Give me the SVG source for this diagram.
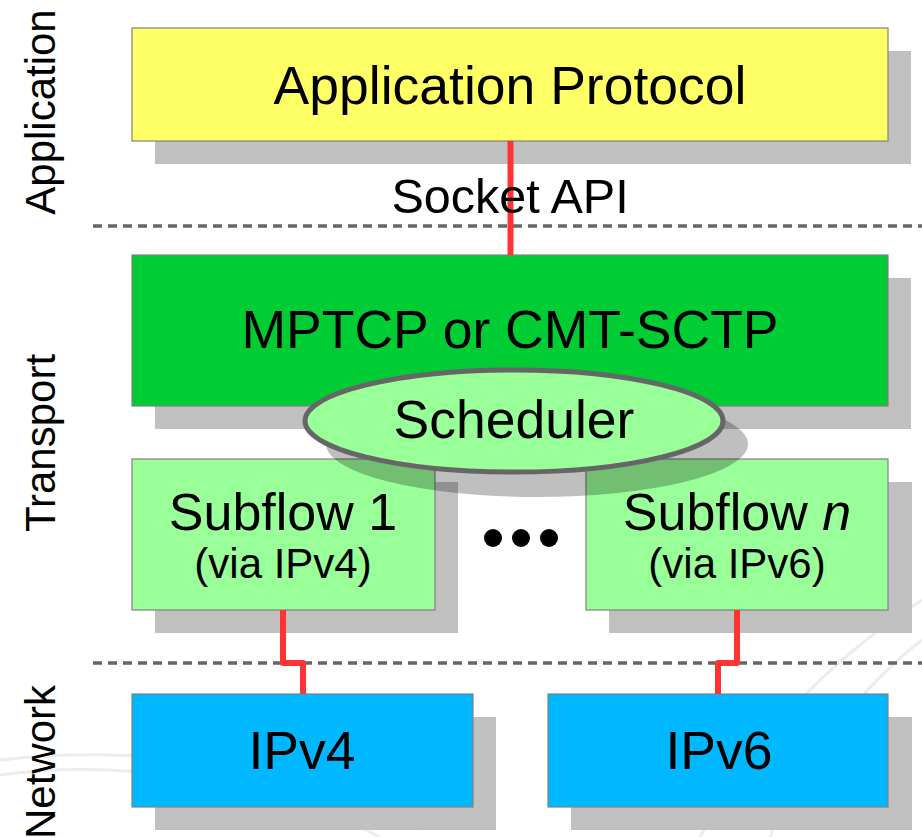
<svg xmlns="http://www.w3.org/2000/svg" width="922" height="837" viewBox="0 0 922 837">
<style>
text{font-family:"Liberation Sans",Arial,sans-serif;fill:#000;text-anchor:middle}
.big{font-size:53.5px}
.sub{font-size:52px}
.mid{font-size:42px}
.side{font-size:42px}
.sh{fill:#c0c0c0}
.box{stroke:#808080;stroke-width:1.2}
.dash{stroke:#666;stroke-width:3.5;stroke-dasharray:9 6;fill:none}
.wire{stroke:#ff3333;stroke-width:6;fill:none;stroke-linejoin:round}
</style>
<rect width="922" height="837" fill="#fff"/>
<g id="watermark" fill="none" stroke="#ececec" stroke-width="3">
<path d="M0 760 C 120 745, 300 760, 420 830"/>
<path d="M0 775 C 110 760, 260 775, 380 837"/>
<path d="M922 600 C 860 640, 760 720, 700 837"/>
<path d="M922 640 C 870 680, 800 760, 770 837"/>
</g>
<g id="layers">
<text class="side" transform="translate(55,112) rotate(-90)">Application</text>
<text class="side" transform="translate(55,443) rotate(-90)">Transport</text>
<text class="side" transform="translate(55,762) rotate(-90)">Network</text>
<line class="dash" x1="93" y1="226" x2="922" y2="226"/>
<line class="dash" x1="93" y1="663" x2="922" y2="663"/>
</g>
<g id="app">
<rect class="sh" x="155" y="51" width="756" height="113"/>
<rect class="box" x="132" y="28" width="756" height="113" fill="#ffff66"/>
<text class="big" x="510" y="104">Application Protocol</text>
</g>
<g id="mptcp">
<rect class="sh" x="155" y="278" width="756" height="151"/>
<rect class="box" x="132" y="255" width="756" height="151" fill="#00cc33"/>
<text class="big" x="510" y="348">MPTCP or CMT-SCTP</text>
</g>
<g id="subflow1">
<rect class="sh" x="155" y="482" width="303" height="151"/>
<rect class="box" x="132" y="459" width="303" height="151" fill="#99ff99"/>
<text class="sub" x="283" y="530">Subflow 1</text>
<text class="mid" x="283" y="578">(via IPv4)</text>
</g>
<g id="subflown">
<rect class="sh" x="609" y="482" width="303" height="151"/>
<rect class="box" x="586" y="459" width="302" height="151" fill="#99ff99"/>
<text class="sub" x="737" y="530">Subflow <tspan font-style="italic">n</tspan></text>
<text class="mid" x="737" y="578">(via IPv6)</text>
</g>
<g id="scheduler">
<ellipse cx="537" cy="444" rx="211" ry="53" fill="#000" fill-opacity="0.25"/>
<ellipse cx="514" cy="421" rx="209" ry="51" fill="#99ff99" stroke="#666" stroke-width="5"/>
<text class="big" x="514" y="438">Scheduler</text>
</g>
<g id="dots" fill="#000">
<circle cx="493" cy="538" r="9"/>
<circle cx="521" cy="538" r="9"/>
<circle cx="549" cy="538" r="9"/>
</g>
<g id="ipv4">
<rect class="sh" x="155" y="717" width="341" height="113"/>
<rect class="box" x="132" y="694" width="341" height="113" fill="#00b8ff"/>
<text class="big" x="302" y="769">IPv4</text>
</g>
<g id="ipv6">
<rect class="sh" x="571" y="717" width="341" height="113"/>
<rect class="box" x="548" y="694" width="340" height="113" fill="#00b8ff"/>
<text class="big" x="719" y="769">IPv6</text>
</g>
<g id="connectors">
<line class="wire" x1="510.5" y1="141" x2="510.5" y2="255"/>
<path class="wire" d="M283 610 V663 H303 V694"/>
<path class="wire" d="M737 610 V663 H718 V694"/>
</g>
<text style="font-size:48.5px" x="510" y="213">Socket API</text>
</svg>
